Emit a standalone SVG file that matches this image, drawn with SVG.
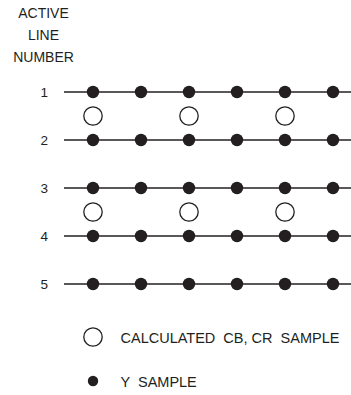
<svg xmlns="http://www.w3.org/2000/svg" width="351" height="395" viewBox="0 0 351 395">
<defs>
<style>
text{font-family:"Liberation Sans",Arial,sans-serif;font-size:14px;fill:#231f20;white-space:pre}
.num{font-size:13.5px;text-anchor:end}
.hdr{text-anchor:middle}
.leg{font-size:14.5px}
.ln{stroke:#231f20;stroke-width:1.3;fill:none}
.y{fill:#231f20}
.c{fill:#fff;stroke:#231f20;stroke-width:1.3}
</style>
<g id="yrow">
<circle class="y" cx="93" cy="0" r="6.2"/>
<circle class="y" cx="141" cy="0" r="6.2"/>
<circle class="y" cx="189" cy="0" r="6.2"/>
<circle class="y" cx="237" cy="0" r="6.2"/>
<circle class="y" cx="285" cy="0" r="6.2"/>
<circle class="y" cx="333" cy="0" r="6.2"/>
</g>
<g id="crow">
<circle class="c" cx="93" cy="0" r="9.2"/>
<circle class="c" cx="189" cy="0" r="9.2"/>
<circle class="c" cx="285" cy="0" r="9.2"/>
</g>
</defs>
<g id="header">
<text class="hdr" x="43.5" y="18">ACTIVE</text>
<text class="hdr" x="43.5" y="40">LINE</text>
<text class="hdr" x="43.5" y="62">NUMBER</text>
</g>
<g id="connectors">
<line class="ln" x1="64" y1="92" x2="351" y2="92"/>
<line class="ln" x1="64" y1="140" x2="351" y2="140"/>
<line class="ln" x1="64" y1="188" x2="351" y2="188"/>
<line class="ln" x1="64" y1="236" x2="351" y2="236"/>
<line class="ln" x1="64" y1="284" x2="351" y2="284"/>
</g>
<g id="line1"><text class="num" x="48" y="97">1</text><use href="#yrow" y="92"/></g>
<g id="chroma12"><use href="#crow" y="116"/></g>
<g id="line2"><text class="num" x="48" y="145">2</text><use href="#yrow" y="140"/></g>
<g id="line3"><text class="num" x="48" y="193">3</text><use href="#yrow" y="188"/></g>
<g id="chroma34"><use href="#crow" y="212"/></g>
<g id="line4"><text class="num" x="48" y="241">4</text><use href="#yrow" y="236"/></g>
<g id="line5"><text class="num" x="48" y="289">5</text><use href="#yrow" y="284"/></g>
<g id="legend-c">
<circle class="c" cx="93" cy="337" r="9.2"/>
<text class="leg" x="120.5" y="342.5">CALCULATED  CB, CR  SAMPLE</text>
</g>
<g id="legend-y">
<circle class="y" cx="93" cy="381" r="5.2"/>
<text class="leg" x="120.5" y="387">Y  SAMPLE</text>
</g>
</svg>
